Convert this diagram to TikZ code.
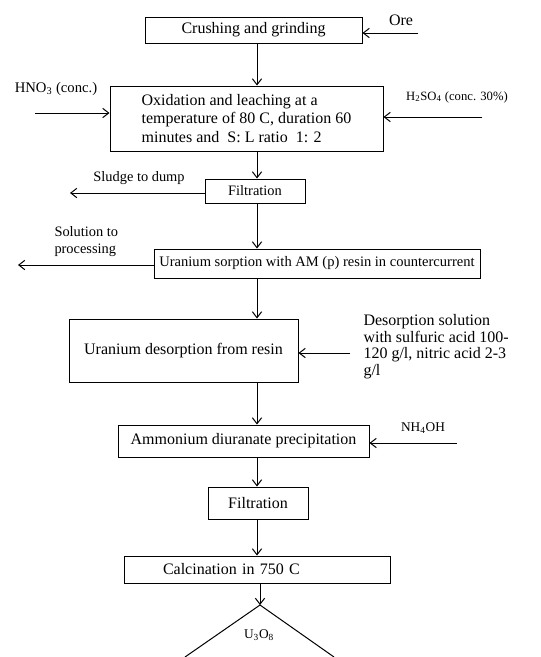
\documentclass[tikz,border=0pt]{standalone}
\usepackage{fontspec}
\setmainfont{Liberation Serif}
\usetikzlibrary{arrows.meta}

\tikzset{every picture/.style={line width=0.75pt}}
\tikzset{
  box/.style={draw, inner sep=0.75pt, align=center, font=\fontsize{12}{14}\selectfont},
  lbl/.style={inner sep=0.75pt, align=left},
  arr/.style={-{Straight Barb[length=4.5pt,width=7pt]}},
}

\begin{document}
\begin{tikzpicture}[x=0.75pt,y=0.75pt,yscale=-1,xscale=1]
\useasboundingbox (0,0) rectangle (540,657);

%Shape: Rectangle [id:crush]
\node (crush) [box, minimum width=162.75pt, minimum height=19.5pt] at (253.5,30) {Crushing and grinding};
%Shape: Rectangle [id:oxid]
\node (oxid) [box, align=left, minimum width=204.75pt, minimum height=48.75pt] at (246.5,118.5) {Oxidation and leaching at a\\temperature of 80 C, duration 60\\minutes and\ \ S: L ratio\ \ 1: 2};
%Shape: Rectangle [id:filt1]
\node (filt1) [box, font=\fontsize{10.8}{13}\selectfont, minimum width=75pt, minimum height=18pt] at (255,191) {Filtration};
%Shape: Rectangle [id:sorp]
\node (sorp) [box, font=\fontsize{10.9}{13}\selectfont, minimum width=244.5pt, minimum height=21.75pt] at (317,263.5) {Uranium sorption with AM (p) resin in countercurrent};
%Shape: Rectangle [id:desorp]
\node (desorp) [box, minimum width=171.75pt, minimum height=47.25pt] at (183.5,350.5) {Uranium desorption from resin};
%Shape: Rectangle [id:ammon]
\node (ammon) [box, minimum width=188.25pt, minimum height=24pt] at (243.5,441) {Ammonium diuranate precipitation};
%Shape: Rectangle [id:filt2]
\node (filt2) [box, minimum width=75pt, minimum height=24pt] at (258,503) {Filtration};
%Shape: Rectangle [id:calc]
\node (calc) [box, align=left, text width=198pt, minimum height=20.25pt] at (257,569.5) {\hspace*{28.5pt}Calcination in 750 C};

%Straight Lines (main line)
\coordinate (trunk) at (257,0);
\draw [arr] (crush.south -| trunk) -- (oxid.north -| trunk);
\draw [arr] (oxid.south -| trunk) -- (filt1.north -| trunk);
\draw [arr] (filt1.south -| trunk) -- (sorp.north -| trunk);
\draw [arr] (sorp.south -| trunk) -- (desorp.north -| trunk);
\draw [arr] (desorp.south -| trunk) -- (ammon.north -| trunk);
\draw [arr] (ammon.south -| trunk) -- (filt2.north -| trunk);
\draw [arr] (filt2.south -| trunk) -- (calc.north -| trunk);
\coordinate (prod) at (260,605);
\draw [arr] (calc.south -| prod) -- (prod);
%Shape: Triangle [id:prod]
\draw (185,657) -- (prod) -- (334,657);

%Straight Lines (inputs and outputs)
\coordinate (oreIn) at (418,33);
\draw [arr] (oreIn) -- (oreIn -| crush.east);
\coordinate (hnoIn) at (35,113);
\draw [arr] (hnoIn) -- (hnoIn -| oxid.west);
\coordinate (hsoIn) at (482,117);
\draw [arr] (hsoIn) -- (hsoIn -| oxid.east);
\coordinate (sludgeOut) at (70,193);
\draw [arr] (sludgeOut -| filt1.west) -- (sludgeOut);
\coordinate (solOut) at (18,265);
\draw [arr] (solOut -| sorp.west) -- (solOut);
\coordinate (desIn) at (350,353);
\draw [arr] (desIn) -- (desIn -| desorp.east);
\coordinate (nhIn) at (457,443);
\draw [arr] (nhIn) -- (nhIn -| ammon.east);

% Text Node
\node (ore) [lbl, font=\fontsize{12}{14}\selectfont] at (401,20) {Ore};
% Text Node
\node (hno) [lbl, font=\fontsize{11}{13}\selectfont] at (56,89) {HNO\textsubscript{3} (conc.)};
% Text Node
\node (hso) [lbl, font=\fontsize{9.5}{11}\selectfont] at (457,97) {H\textsubscript{2}SO\textsubscript{4} (conc. 30\%)};
% Text Node
\node (sludge) [lbl, font=\fontsize{10.8}{13}\selectfont] at (139,178) {Sludge to dump};
% Text Node
\node (sol) [lbl, anchor=north west, font=\fontsize{10.8}{12.75}\selectfont] at (53,225) {Solution to\\processing};
% Text Node
\node (desol) [lbl, anchor=north west, font=\fontsize{12}{12.5}\selectfont] at (362,313) {Desorption solution\\with sulfuric acid 100-\\120 g/l, nitric acid 2-3\\g/l};
% Text Node
\node (nh) [lbl, font=\fontsize{10}{12}\selectfont] at (423,428) {NH\textsubscript{4}OH};
% Text Node
\node (uo) [lbl, font=\fontsize{10}{12}\selectfont] at (259,635) {U\textsubscript{3}O\textsubscript{8}};
\end{tikzpicture}
\end{document}
